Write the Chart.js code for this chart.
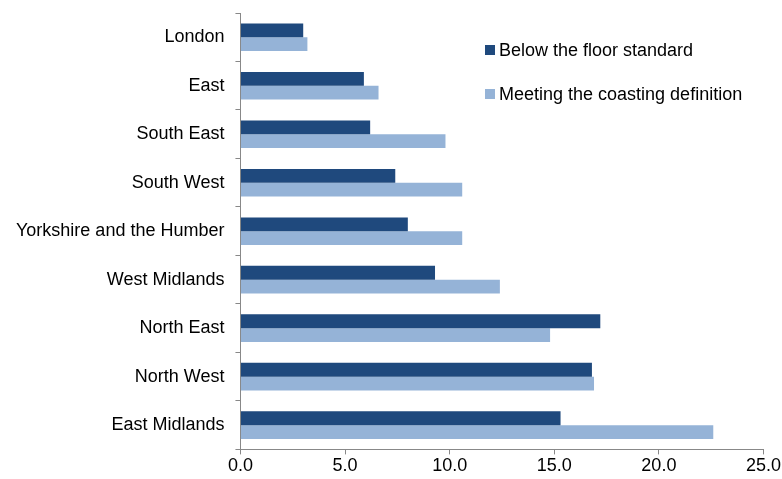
<!DOCTYPE html>
<html lang="en">
<head>
<meta charset="UTF-8">
<script src="https://cdn.jsdelivr.net/npm/chart.js@4"></script>
<style>
  body { margin: 0; background: #fff; }
  #wrap { position: relative; width: 782px; height: 479px; }
  .legenda { position: absolute; left: 485px; font: 18px "Liberation Sans", Arial, sans-serif; color: #000; }
  .legenda span { display: inline-block; width: 10px; height: 10px; margin-right: 4px; vertical-align: 1px; }
</style>
</head>
<body>
<div id="wrap">
  <canvas id="grafico" width="782" height="479"></canvas>
  <div class="legenda" style="top:40px"><span style="background:#1f497d"></span>Below the floor standard</div>
  <div class="legenda" style="top:84px"><span style="background:#95b3d7"></span>Meeting the coasting definition</div>
</div>
<script>
const regioes = ['London', 'East', 'South East', 'South West', 'Yorkshire and the Humber',
  'West Midlands', 'North East', 'North West', 'East Midlands'];
const abaixoPiso = [3.0, 5.9, 6.2, 7.4, 8.0, 9.3, 17.2, 16.8, 15.3];
const coasting = [3.2, 6.6, 9.8, 10.6, 10.6, 12.4, 14.8, 16.9, 22.6];
const ticksX = ['0.0', '5.0', '10.0', '15.0', '20.0', '25.0'];

const fonte = { family: '"Liberation Sans", Arial, sans-serif', size: 18 };

new Chart(document.getElementById('grafico'), {
  type: 'bar',
  data: {
    labels: regioes,
    datasets: [
      { label: 'Below the floor standard', data: abaixoPiso, backgroundColor: '#1f497d' },
      { label: 'Meeting the coasting definition', data: coasting, backgroundColor: '#95b3d7' }
    ]
  },
  options: {
    indexAxis: 'y',
    responsive: false,
    animation: false,
    layout: { padding: { top: 13, right: 0, bottom: 1, left: 5 } },
    datasets: { bar: { categoryPercentage: 0.57, barPercentage: 1 } },
    plugins: { legend: { display: false }, tooltip: { enabled: false } },
    scales: {
      x: {
        min: 0, max: 25,
        ticks: { stepSize: 5, color: '#000', font: fonte, padding: 1,
          callback: (v, i) => ticksX[i] },
        grid: { drawOnChartArea: false, color: '#888', tickLength: 5 },
        border: { color: '#888', width: 1 }
      },
      y: {
        ticks: { color: '#000', font: fonte, padding: 11 },
        grid: { drawOnChartArea: false, offset: true, color: '#888', tickLength: 5 },
        border: { color: '#888', width: 1 },
        // o eixo reserva meia linha de texto em cima; aqui nao precisa
        afterFit: (escala) => { escala.paddingTop = 0; escala.paddingBottom = 0; }
      }
    }
  }
});
</script>
</body>
</html>
